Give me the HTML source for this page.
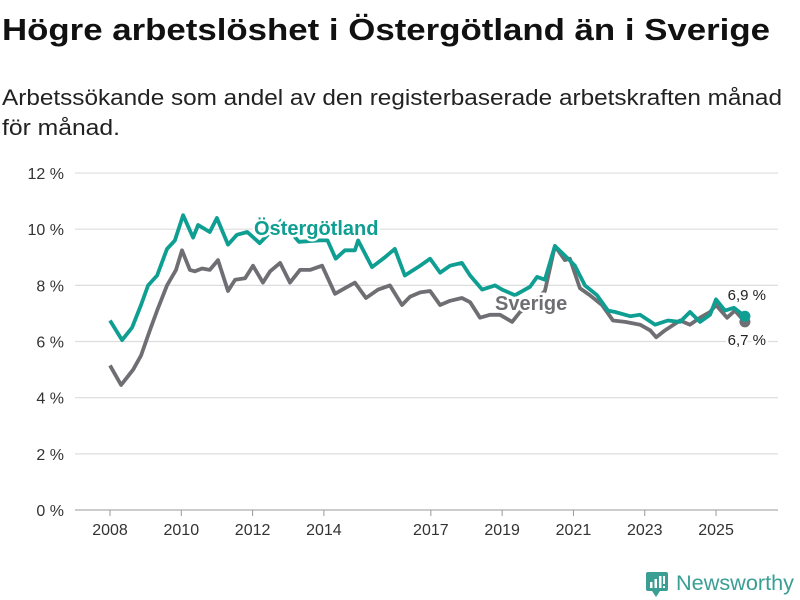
<!DOCTYPE html>
<html><head><meta charset="utf-8"><style>
body{margin:0;background:#fff;}
svg{display:block;font-family:"Liberation Sans",sans-serif;}
</style></head><body>
<svg id="chart" width="800" height="600" viewBox="0 0 800 600">
<text x="2" y="40" font-size="31" font-weight="bold" fill="#111" textLength="768" lengthAdjust="spacingAndGlyphs">Högre arbetslöshet i Östergötland än i Sverige</text>
<text x="2" y="105" font-size="22" fill="#222" textLength="780" lengthAdjust="spacingAndGlyphs">Arbetssökande som andel av den registerbaserade arbetskraften månad</text>
<text x="2" y="135" font-size="22" fill="#222" textLength="118" lengthAdjust="spacingAndGlyphs">för månad.</text>
<g id="grid"></g><g id="xaxis"></g><g id="lines"></g><g id="labels"></g>
<g>
<rect x="646" y="572" width="22" height="19" rx="2" fill="#3a9e94"/>
<path d="M652 591 L656 597 L660 591Z" fill="#3a9e94"/>
<rect x="650" y="582" width="2.5" height="6" fill="#fff"/><rect x="654.5" y="579" width="2.5" height="9" fill="#fff"/><rect x="659" y="576" width="2.5" height="12" fill="#fff"/><rect x="663" y="576" width="2" height="8" fill="#fff"/><rect x="663" y="586" width="2" height="2" fill="#fff"/>
<text x="676" y="590" font-size="21" fill="#3a9e94" textLength="118" lengthAdjust="spacingAndGlyphs">Newsworthy</text>
</g>
</svg>
<script>
const yTicks=[0,2,4,6,8,10,12];
const xTickYears=[2008,2010,2012,2014,2017,2019,2021,2023,2025];
const sweYears=[2008.0,2008.31,2008.65,2008.87,2009.12,2009.32,2009.6,2009.85,2010.02,2010.24,2010.38,2010.58,2010.8,2011.03,2011.31,2011.51,2011.79,2012.01,2012.29,2012.49,2012.77,2013.05,2013.33,2013.61,2013.95,2014.31,2014.59,2014.87,2015.18,2015.52,2015.85,2016.19,2016.42,2016.7,2016.98,2017.26,2017.54,2017.87,2018.1,2018.38,2018.66,2018.94,2019.28,2019.5,2019.8,2020.2,2020.48,2020.76,2020.9,2021.18,2021.46,2021.8,2022.11,2022.45,2022.87,2023.15,2023.32,2023.57,2023.99,2024.27,2024.55,2024.83,2025.0,2025.31,2025.53,2025.81];
const sweValues=[5.15,4.45,5.0,5.5,6.4,7.1,8.0,8.55,9.25,8.55,8.5,8.6,8.55,8.9,7.8,8.2,8.25,8.7,8.1,8.5,8.8,8.1,8.55,8.55,8.7,7.7,7.9,8.1,7.55,7.85,8.0,7.3,7.6,7.75,7.8,7.3,7.45,7.55,7.4,6.85,6.95,6.95,6.7,7.05,7.3,7.8,9.4,8.9,8.95,7.9,7.65,7.3,6.75,6.7,6.6,6.4,6.15,6.4,6.75,6.6,6.85,7.05,7.3,6.85,7.1,6.7];
const ostYears=[2008.0,2008.34,2008.62,2008.87,2009.07,2009.32,2009.6,2009.82,2010.05,2010.33,2010.47,2010.8,2011.0,2011.31,2011.56,2011.85,2012.2,2012.8,2013.3,2013.9,2014.1,2014.33,2014.59,2014.87,2014.96,2015.35,2015.71,2015.99,2016.27,2016.7,2016.98,2017.26,2017.54,2017.87,2018.1,2018.44,2018.8,2019.0,2019.36,2019.78,2019.98,2020.2,2020.48,2020.85,2021.04,2021.32,2021.66,2021.97,2022.17,2022.59,2022.87,2023.29,2023.65,2023.99,2024.27,2024.55,2024.83,2025.0,2025.25,2025.5,2025.81];
const ostValues=[6.75,6.05,6.5,7.3,8.0,8.35,9.3,9.6,10.5,9.7,10.15,9.9,10.4,9.45,9.8,9.9,9.5,10.3,9.55,9.6,9.6,8.95,9.25,9.25,9.6,8.65,9.0,9.3,8.35,8.7,8.95,8.45,8.7,8.8,8.35,7.85,8.0,7.85,7.65,7.95,8.3,8.2,9.4,8.95,8.7,8.0,7.65,7.1,7.05,6.9,6.95,6.6,6.75,6.7,7.05,6.7,6.95,7.5,7.1,7.2,6.9];
const NS='http://www.w3.org/2000/svg';
const x=y=>110+(y-2008)*35.65;
const yv=v=>510-v*28.08;
function mk(t,a,p){const e=document.createElementNS(NS,t);for(const k in a)e.setAttribute(k,a[k]);p.appendChild(e);return e;}
const grid=document.getElementById('grid');
yTicks.forEach(t=>{
  const l=mk('line',{x1:75,x2:778,y1:yv(t),y2:yv(t),stroke:t===0?'#bbb':'#ddd','stroke-width':t===0?1.5:1.2},grid);
  
  
  const tx=mk('text',{x:64,y:yv(t)+6,'text-anchor':'end','font-size':16,fill:'#333'},grid);
  tx.textContent=t+' %';
  
  
});
const xa=document.getElementById('xaxis');
xTickYears.forEach(yr=>{
  const l=mk('line',{x1:x(yr),x2:x(yr),y1:510,y2:516,stroke:'#999'},xa);
  
  
  const tx=mk('text',{x:x(yr),y:535,'text-anchor':'middle','font-size':16,fill:'#333'},xa);
  tx.textContent=yr;
  
  
});
const lines=document.getElementById('lines');
function series(ys,vs,col,name){
  const d=ys.map((yr,i)=>(i?'L':'M')+x(yr).toFixed(1)+' '+yv(vs[i]).toFixed(1)).join(' ');
  const p=mk('path',{d:d,fill:'none',stroke:col,'stroke-width':3.8,'stroke-linejoin':'round'},lines);
  
  
  const n=ys.length-1;
  const c=mk('circle',{cx:x(ys[n]),cy:yv(vs[n]),r:5.5,fill:col},lines);
  
  
}
series(sweYears,sweValues,'#6e6e73','sverige');
series(ostYears,ostValues,'#0e9e92','ostergotland');
const lab=document.getElementById('labels');
function label(tx,X,Y,col,size,bold,anchor,name){
  const t=mk('text',{x:X,y:Y,'font-size':size,'font-weight':bold?'bold':'normal',fill:col,stroke:'#fff','stroke-width':5,'paint-order':'stroke','text-anchor':anchor||'start'},lab);
  t.textContent=tx;
  
  
}
label('Östergötland',254,235,'#0e9e92',20,true,'start','ostergotland-label');
label('Sverige',495,310,'#6e6e73',20,true,'start','sverige-label');
label('6,9 %',766,300,'#222',15,false,'end','ostergotland-end-value');
label('6,7 %',766,345,'#222',15,false,'end','sverige-end-value');
</script>
</body></html>
